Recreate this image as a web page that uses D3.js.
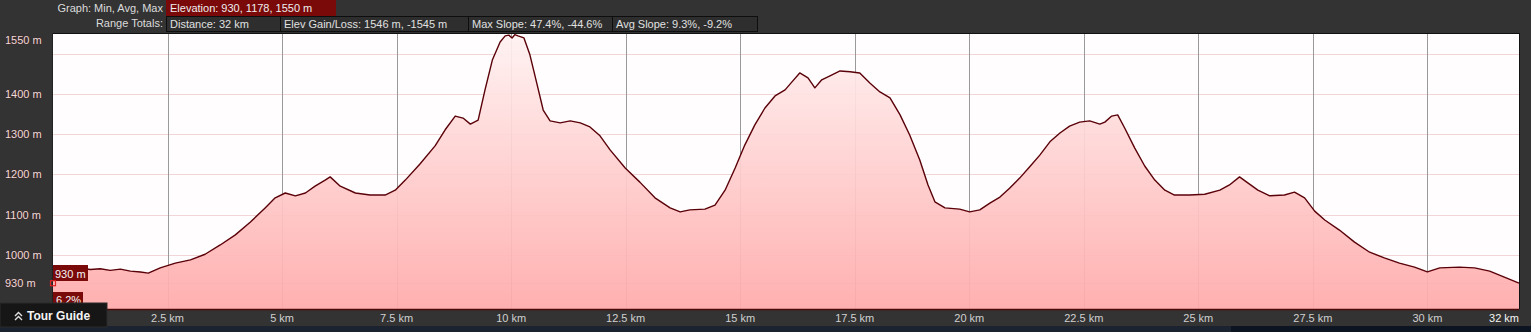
<!DOCTYPE html>
<html><head><meta charset="utf-8">
<script src="https://cdn.jsdelivr.net/npm/d3@7"></script>
<style>
html,body{margin:0;padding:0;background:#333;overflow:hidden}
svg{display:block;font-family:"Liberation Sans",Arial,sans-serif}
</style></head>
<body><svg id="c" width="1531" height="332"></svg>
<script>
// distance (km)
const distance = [0,0.16,0.38,0.6,0.82,1.03,1.25,1.47,1.69,1.91,2.08,2.34,2.67,3.0,3.32,3.65,3.98,4.31,4.63,4.85,5.07,5.29,5.51,5.72,5.94,6.05,6.27,6.6,6.92,7.25,7.47,7.69,8.01,8.34,8.56,8.78,8.95,9.11,9.28,9.43,9.59,9.76,9.87,9.95,10.02,10.08,10.15,10.28,10.41,10.57,10.7,10.85,11.07,11.29,11.51,11.72,11.94,12.16,12.49,12.81,13.14,13.47,13.69,13.9,14.23,14.45,14.67,14.89,15.1,15.32,15.54,15.76,15.98,16.13,16.3,16.48,16.63,16.78,16.96,17.18,17.4,17.61,17.83,18.05,18.27,18.49,18.7,18.92,19.1,19.25,19.47,19.79,20.01,20.23,20.45,20.67,20.88,21.1,21.32,21.54,21.76,21.98,22.19,22.41,22.63,22.85,22.96,23.11,23.24,23.39,23.61,23.83,24.05,24.27,24.48,24.81,25.14,25.47,25.68,25.9,26.08,26.3,26.56,26.88,27.1,27.32,27.54,27.76,28.08,28.41,28.74,29.06,29.39,29.72,30.0,30.27,30.7,31.03,31.36,31.68,32];
// elevation (m)
const elevation = [968,966,963,967,964,966,962,965,960,958,955,968,980,988,1002,1025,1050,1082,1117,1142,1154,1147,1154,1171,1186,1194,1171,1154,1149,1149,1161,1186,1226,1271,1311,1345,1340,1325,1335,1410,1484,1529,1544,1546,1539,1547,1544,1539,1497,1422,1360,1333,1328,1333,1328,1318,1296,1261,1216,1181,1142,1117,1107,1112,1114,1124,1161,1216,1273,1323,1365,1395,1410,1430,1452,1440,1415,1435,1445,1457,1455,1452,1427,1405,1390,1348,1298,1236,1174,1132,1117,1114,1107,1112,1129,1144,1166,1191,1219,1248,1281,1303,1320,1330,1333,1325,1330,1345,1348,1316,1266,1221,1186,1161,1149,1149,1151,1161,1174,1194,1179,1161,1147,1149,1156,1142,1109,1087,1062,1032,1007,993,980,970,958,968,970,968,960,945,930];
const yTickValues = [1550,1400,1300,1200,1100,1000,930];
const yTickLabels = ["1550 m","1400 m","1300 m","1200 m","1100 m","1000 m","930 m"];
const yGridValues = [1500,1400,1300,1200,1100,1000,930];
const xTickValues = [2.5,5,7.5,10,12.5,15,17.5,20,22.5,25,27.5,30,32];
const xTickLabels = ["2.5 km","5 km","7.5 km","10 km","12.5 km","15 km","17.5 km","20 km","22.5 km","25 km","27.5 km","30 km","32 km"];
const headerRow1 = {label:"Graph: Min, Avg, Max", box:"Elevation: 930, 1178, 1550 m"};
const headerRow2Label = "Range Totals:";
const headerRow2Boxes = ["Distance: 32 km","Elev Gain/Loss: 1546 m, -1545 m","Max Slope: 47.4%, -44.6%","Avg Slope: 9.3%, -9.2%"];
const markerElev = "930 m", markerSlope = "6.2%";

const svg = d3.select("#c");
const L=53, R=1519, T=33, B=309;
const x = d3.scaleLinear().domain([0,32]).range([L,R]);
const y = d3.scaleLinear().domain([866,1550]).range([B,T+0.5]);

// backgrounds
svg.append("rect").attr("width",1531).attr("height",332).attr("fill","#333");
svg.append("rect").attr("x",0).attr("y",326).attr("width",1531).attr("height",6).attr("fill","#1b2330");
svg.append("rect").attr("x",1231).attr("y",326).attr("width",300).attr("height",6).attr("fill","#0b1420");

// header
const hdr = svg.append("g").attr("font-size",11).attr("fill","#dcdcdc");
hdr.append("text").attr("x",163).attr("y",12).attr("text-anchor","end").text(headerRow1.label);
hdr.append("rect").attr("x",166).attr("y",0).attr("width",170).attr("height",16).attr("fill","#7a0a0a");
hdr.append("text").attr("x",170).attr("y",12).attr("fill","#eee").text(headerRow1.box);
hdr.append("text").attr("x",163).attr("y",27).attr("text-anchor","end").text(headerRow2Label);
const bx=[166,280,468,612,757];
headerRow2Boxes.forEach((t,i)=>{
  hdr.append("rect").attr("x",bx[i]+0.5).attr("y",16.5).attr("width",bx[i+1]-bx[i]).attr("height",15)
    .attr("fill","#2e2e2e").attr("stroke","#0e0e0e");
  hdr.append("text").attr("x",bx[i]+4).attr("y",27.5).attr("fill","#e0e0e0").text(t);
});

// plot bg
const defs = svg.append("defs");
const grad = defs.append("linearGradient").attr("id","fillg").attr("gradientUnits","userSpaceOnUse")
  .attr("x1",0).attr("y1",T).attr("x2",0).attr("y2",B);
grad.append("stop").attr("offset",0).attr("stop-color","#fff2f2");
grad.append("stop").attr("offset",1).attr("stop-color","#ffaaaa");
svg.append("rect").attr("x",L).attr("y",T).attr("width",R-L).attr("height",B-T).attr("fill","#fffdfd");

// grid
svg.append("g").selectAll("line").data(yGridValues).join("line")
  .attr("x1",L).attr("x2",R).attr("y1",d=>Math.round(y(d))+0.5).attr("y2",d=>Math.round(y(d))+0.5)
  .attr("stroke","#f0d6d6").attr("stroke-width",1);
svg.append("g").selectAll("line").data(xTickValues.slice(0,-1)).join("line")
  .attr("y1",T).attr("y2",B).attr("x1",d=>Math.round(x(d))+0.5).attr("x2",d=>Math.round(x(d))+0.5)
  .attr("stroke","#9a9a9a").attr("stroke-width",1);

// area
const pts = distance.map((d,i)=>[d,elevation[i]]);
const area = d3.area().x(d=>x(d[0])).y0(B).y1(d=>y(d[1]));
const line = d3.line().x(d=>x(d[0])).y(d=>y(d[1]));
svg.append("path").attr("d",area(pts)).attr("fill","url(#fillg)").attr("fill-opacity",0.93);
svg.append("path").attr("d",line(pts)).attr("fill","none").attr("stroke","#5a0008").attr("stroke-width",1.4).attr("stroke-linejoin","round");

// borders
svg.append("line").attr("x1",L).attr("x2",R).attr("y1",T+0.5).attr("y2",T+0.5).attr("stroke","#111");
svg.append("line").attr("x1",L).attr("x2",R).attr("y1",B+0.5).attr("y2",B+0.5).attr("stroke","#4a0a0a").attr("stroke-width",1.5);
svg.append("line").attr("x1",R+0.5).attr("x2",R+0.5).attr("y1",T).attr("y2",B).attr("stroke","#111");
svg.append("line").attr("x1",L-0.5).attr("x2",L-0.5).attr("y1",T).attr("y2",B).attr("stroke","#222");

// y labels
svg.append("g").selectAll("text").data(yTickValues).join("text")
  .attr("x",5).attr("y",d=> d===1550 ? 44 : y(d)+4)
  .attr("font-size",11).attr("fill","#ecdcdc")
  .attr("style","paint-order:stroke").attr("stroke","#4a1a1a").attr("stroke-width",1.2).attr("stroke-opacity",0.5)
  .text((d,i)=>yTickLabels[i]);

// x labels
svg.append("g").selectAll("text").data(xTickValues).join("text")
  .attr("x",d=> d===32 ? R : x(d)).attr("y",322)
  .attr("text-anchor",d=> d===32 ? "end" : "middle")
  .attr("font-size",11).attr("fill",d=> d===32 ? "#f4f4f4" : "#d0d0d0")
  .text((d,i)=>xTickLabels[i]);

// markers
const m = svg.append("g");
m.append("rect").attr("x",L).attr("y",265).attr("width",35).attr("height",16).attr("fill","#7a0a0a");
m.append("text").attr("x",L+2).attr("y",277.5).attr("font-size",11).attr("fill","#f4f4f4").text(markerElev);
m.append("rect").attr("x",L-2.5).attr("y",y(930)-2.5).attr("width",5).attr("height",5).attr("fill","none").attr("stroke","#e02020").attr("stroke-width",1.2);
m.append("rect").attr("x",L).attr("y",292).attr("width",30).attr("height",15).attr("fill","#7a0a0a");
m.append("text").attr("x",L+3).attr("y",303.5).attr("font-size",11).attr("fill","#f4f4f4").text(markerSlope);

// tour guide
const tg = svg.append("g");
tg.append("rect").attr("x",0).attr("y",303).attr("width",107).attr("height",24).attr("fill","#161616").attr("stroke","#2a2a2a");
tg.append("path").attr("d","M15,316 L18.5,312.5 L22,316 M15,320 L18.5,316.5 L22,320").attr("fill","none").attr("stroke","#e0e0e0").attr("stroke-width",1.4);
tg.append("text").attr("x",27).attr("y",320).attr("font-size",12).attr("font-weight","bold").attr("fill","#f4f4f4").text("Tour Guide");
</script></body></html>
